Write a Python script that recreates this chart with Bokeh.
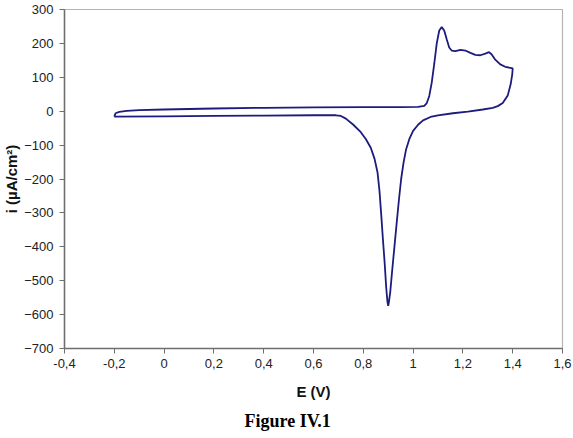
from bokeh.plotting import figure
from bokeh.models import Range1d, FixedTicker, Title
from bokeh.embed import file_html
from bokeh.resources import INLINE

# Cyclic voltammogram: anodic (forward) sweep then cathodic (reverse) sweep
forward_E = [-0.20, -0.195, -0.18, -0.15, -0.10, 0.00, 0.20, 0.40, 0.60, 0.80, 0.95, 1.02,
             1.045, 1.055, 1.065, 1.075, 1.085, 1.095, 1.105, 1.115, 1.125, 1.135, 1.145,
             1.155, 1.17, 1.19, 1.21, 1.23, 1.25, 1.27, 1.29, 1.305, 1.315, 1.33, 1.35,
             1.37, 1.39, 1.40]
forward_I = [-16, -6, -2, 1, 3, 5, 8, 10, 11, 12, 12, 13,
             16, 24, 45, 85, 140, 200, 238, 248, 238, 212, 188,
             179, 177, 181, 179, 172, 166, 165, 170, 174, 168, 152, 138,
             131, 128, 126]

reverse_E = [1.40, 1.398, 1.392, 1.38, 1.36, 1.34, 1.32, 1.28, 1.22, 1.16, 1.10, 1.07,
             1.04, 1.02, 1.00, 0.985, 0.972, 0.962, 0.952, 0.943, 0.934, 0.925, 0.916,
             0.908, 0.903, 0.900, 0.897, 0.892, 0.886, 0.879, 0.872, 0.865, 0.857, 0.845,
             0.83, 0.81, 0.79, 0.76, 0.73, 0.71, 0.69, 0.60, 0.40, 0.20, 0.00, -0.20]
reverse_I = [126, 108, 80, 46, 24, 15, 10, 5, -1, -6, -12, -17,
             -27, -40, -58, -82, -112, -150, -200, -262, -330, -400, -470,
             -535, -562, -574, -562, -520, -450, -380, -305, -235, -180, -140,
             -108, -82, -62, -40, -22, -14, -12, -12, -13, -14, -15, -16]

x_ticks = [-0.4, -0.2, 0.0, 0.2, 0.4, 0.6, 0.8, 1.0, 1.2, 1.4, 1.6]
x_tick_labels = ["-0,4", "-0,2", "0", "0,2", "0,4", "0,6", "0,8", "1", "1,2", "1,4", "1,6"]
y_ticks = [300, 200, 100, 0, -100, -200, -300, -400, -500, -600, -700]

E = forward_E + reverse_E
I = forward_I + reverse_I

p = figure(width=573, height=438, output_backend="svg", toolbar_location=None,
           x_range=Range1d(-0.4, 1.6), y_range=Range1d(-700, 300),
           min_border_left=63, min_border_right=11, min_border_top=9, min_border_bottom=90)

p.line(E, I, line_color="#1c1c7e", line_width=1.8)

p.xgrid.visible = False
p.ygrid.visible = False
p.outline_line_color = "#b4b4b4"
p.outline_line_width = 1.2
p.background_fill_color = "white"
p.border_fill_color = "white"

p.xaxis.ticker = FixedTicker(ticks=x_ticks)
p.xaxis.major_label_overrides = {t: s for t, s in zip(x_ticks, x_tick_labels)}
p.yaxis.ticker = FixedTicker(ticks=y_ticks)

for ax in (p.xaxis[0], p.yaxis[0]):
    ax.axis_line_color = "#6e6e6e"
    ax.axis_line_width = 1.5
    ax.major_tick_line_color = "#6e6e6e"
    ax.major_tick_line_width = 1
    ax.major_tick_out = 5
    ax.major_tick_in = 0
    ax.minor_tick_line_color = None
    ax.major_label_text_font = "Liberation Sans"
    ax.major_label_text_font_size = "13px"
    ax.major_label_text_color = "#222222"
    ax.axis_label_text_font = "Liberation Sans"
    ax.axis_label_text_font_size = "15px"
    ax.axis_label_text_font_style = "bold"
    ax.axis_label_text_color = "#111111"

p.xaxis.major_label_standoff = 5
p.yaxis.major_label_standoff = 6
p.xaxis.axis_label = "E (V)"
p.yaxis.axis_label = "i (µA/cm²)"
p.xaxis.axis_label_standoff = 12
p.yaxis.axis_label_standoff = 1

# Figure caption under the x-axis title
caption = Title(text="Figure IV.1", align="left", offset=180, standoff=12,
                text_font="Liberation Serif", text_font_size="18px",
                text_font_style="bold", text_color="#000000")
p.add_layout(caption, "below")

open("out.html", "w").write(file_html(p, INLINE))
